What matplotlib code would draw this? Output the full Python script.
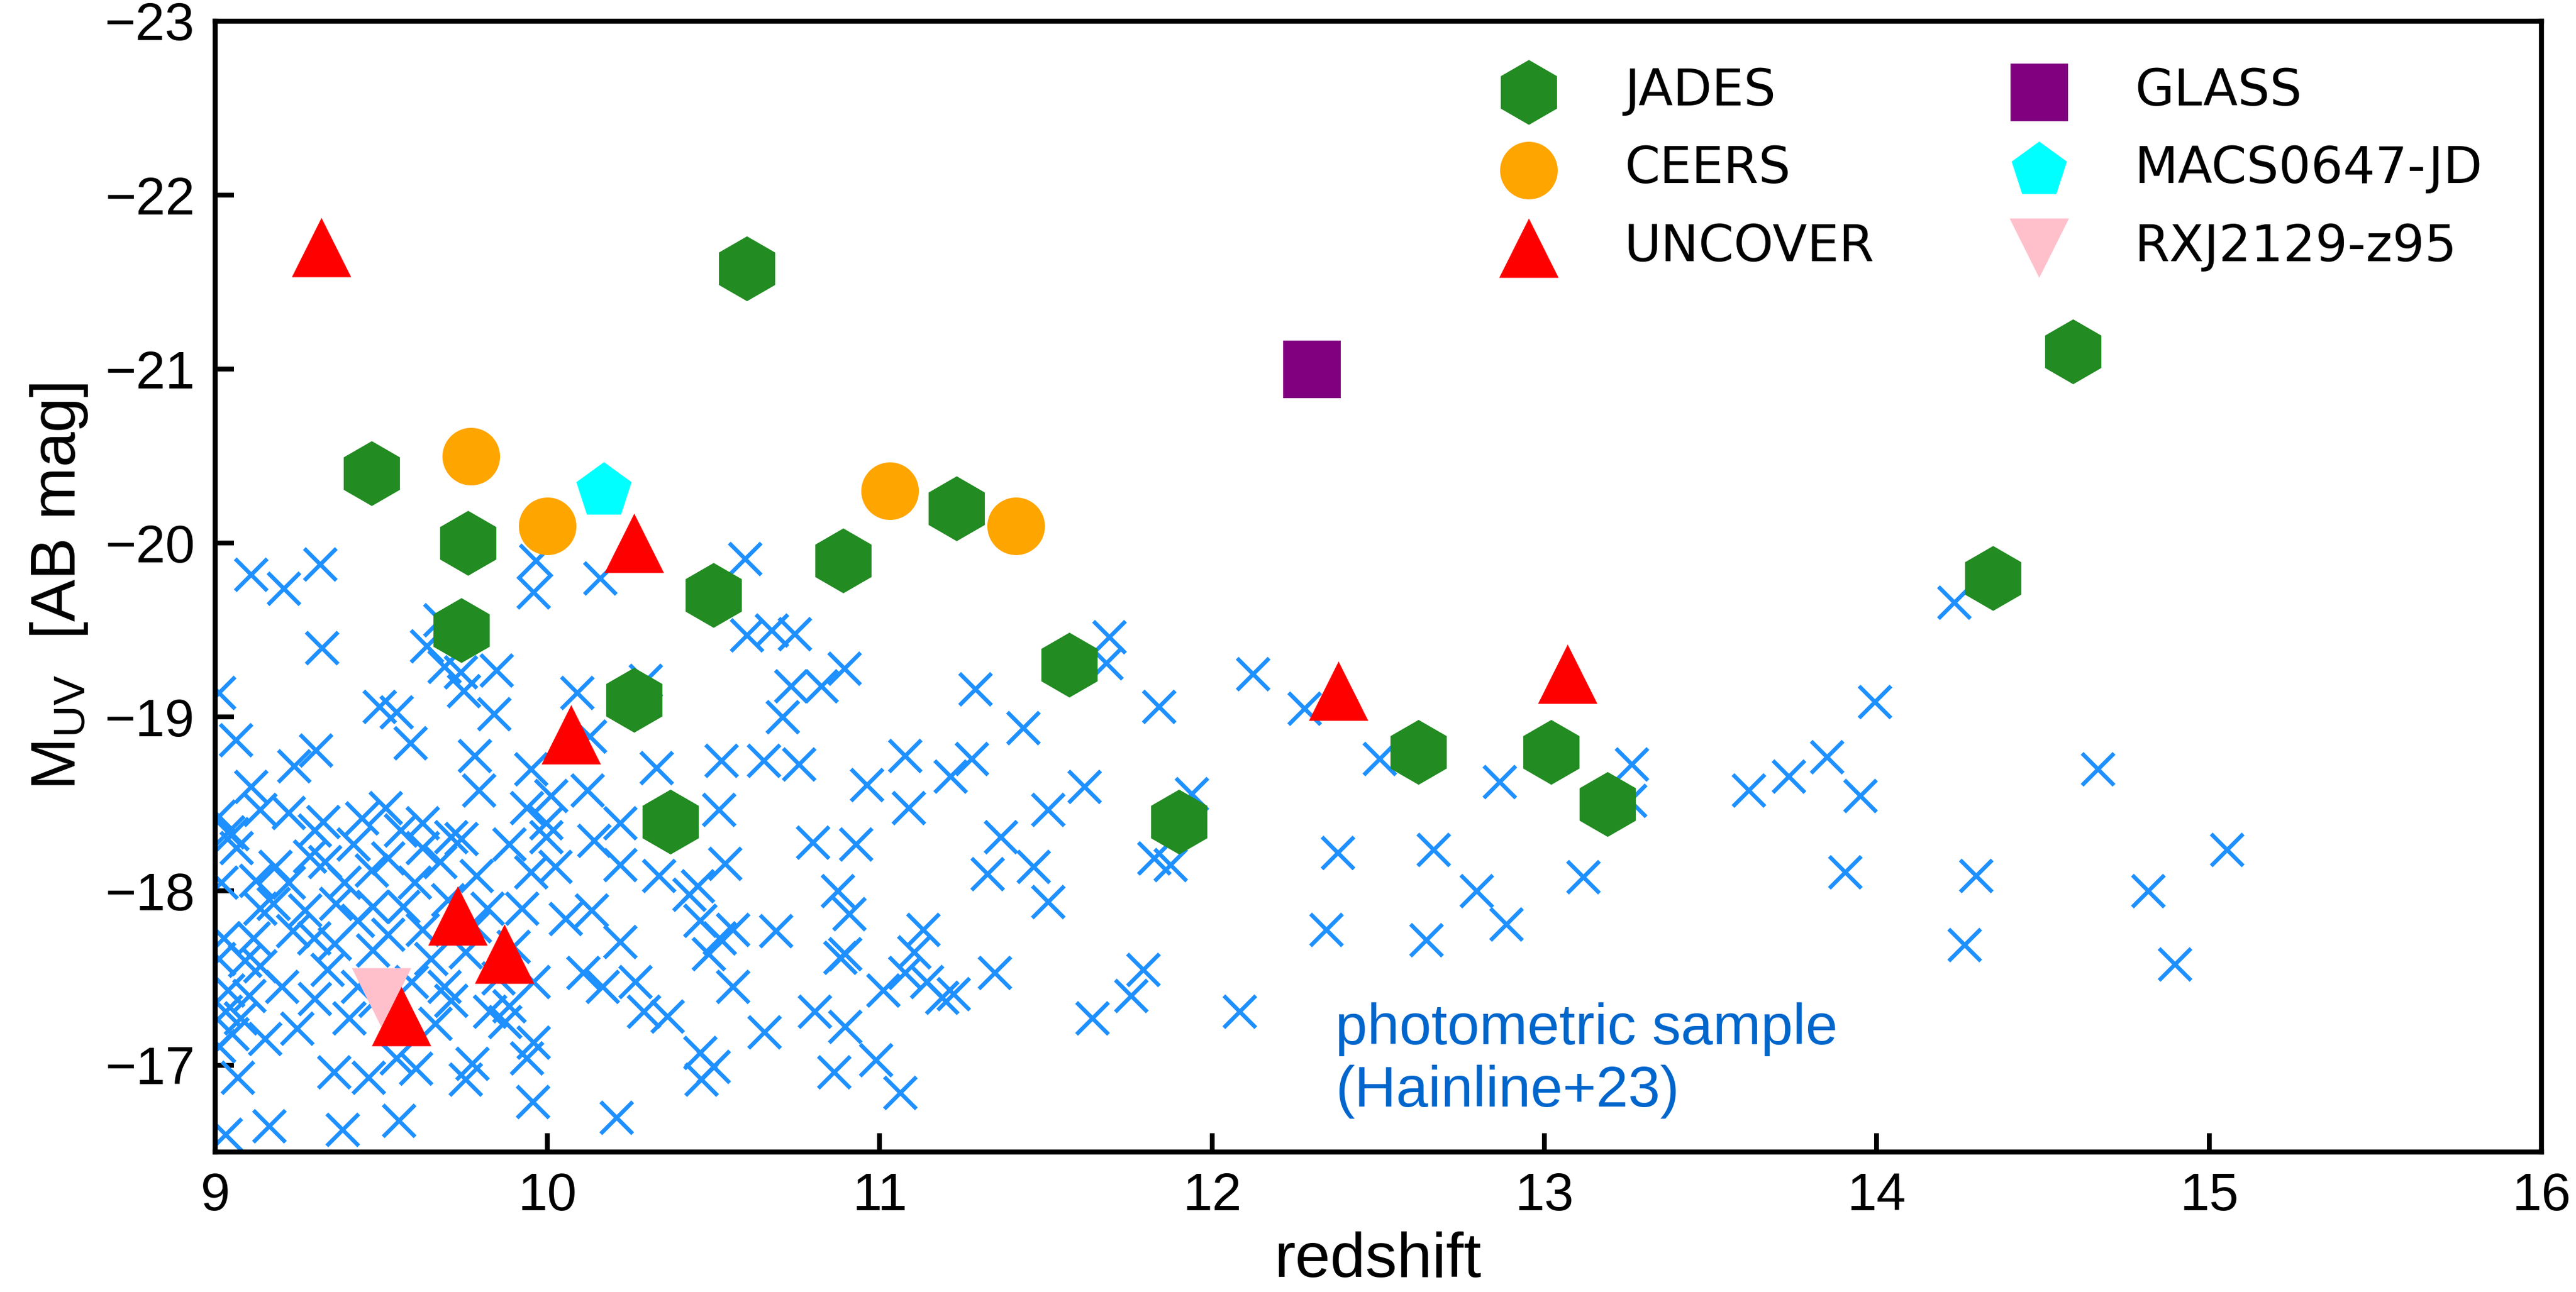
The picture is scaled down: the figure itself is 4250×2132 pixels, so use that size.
import matplotlib
matplotlib.use("Agg")
import matplotlib.pyplot as plt

# ---------------- data ----------------
phot_z = [9.108, 9.207, 9.316, 9.322, 9.012, 9.063, 9.303, 9.238, 9.108, 9.136, 9.22, 9.325, 9.441, 9.513,
          9.494, 9.546, 9.588, 9.636, 9.676, 9.689, 9.738, 9.748, 9.846, 9.839, 9.78, 9.793, 9.965, 9.958,
          9.95, 9.937, 9.624, 9.709, 9.051, 9.012,
          9.038, 9.18, 9.175, 9.135, 9.27, 9.331, 9.363, 9.474, 9.52, 9.624, 9.741, 9.884, 9.95, 9.923,
          9.565, 9.624, 9.337, 9.474, 9.135, 9.089, 9.038, 9.077, 9.051, 9.246, 9.403, 9.65, 9.689, 9.709,
          9.663, 9.885, 9.852, 9.937, 9.956, 9.773, 9.754, 9.604, 9.357, 9.461, 9.067, 9.162, 9.383, 9.552,
          9.031, 9.233, 9.298, 9.116, 9.025, 9.018, 9.064,
          9.122, 9.22, 9.285, 9.416, 9.558, 9.676, 9.786, 9.819, 9.389, 9.429, 9.52, 9.754, 9.897, 9.872,
          9.826, 9.011, 9.031, 9.011, 9.102, 9.591, 9.429, 9.481, 9.545,
          9.30, 9.47, 9.60, 9.70, 9.78, 9.36, 9.20, 9.30, 9.15,
          10.159, 10.594, 10.599, 10.674, 10.743, 10.894, 10.733, 10.824, 10.707, 10.089, 10.296, 10.127,
          10.328, 10.523, 10.65, 10.757, 10.96, 10.515, 10.12, 10.01, 10.218, 10.798, 10.928, 9.996,
          10.534, 10.335, 10.452, 10.427, 10.873, 10.908, 10.687, 10.459, 10.517, 10.557, 10.485, 10.557,
          10.895, 10.88, 10.653, 10.804, 10.895, 10.862, 10.459, 10.50, 10.462, 10.208, 10.36, 10.29,
          10.264, 10.218, 10.107, 10.165, 10.055, 10.133, 10.023, 10.218, 10.14, 9.996, 9.957, 9.957,
          11.69, 11.682, 11.287, 11.432, 11.84, 11.075, 11.277, 11.213, 11.086, 11.616, 11.507, 11.938, 11.363,
          11.324, 11.462, 11.506, 11.825, 11.875, 11.13, 11.103, 11.075, 11.01, 11.142, 11.222, 11.187,
          11.345, 11.64, 11.756, 11.792, 10.988, 11.061,
          12.123, 12.277, 12.503, 12.864, 13.263, 13.257, 12.377, 12.666, 12.795, 13.116, 12.884, 12.344,
          12.645, 12.082,
          14.232, 13.993, 13.615, 13.735, 13.85, 13.95, 14.665, 13.905, 14.299, 15.054, 14.816, 14.264, 14.897]
phot_muv = [-19.82, -19.74, -19.88, -19.40, -19.14, -18.87, -18.81, -18.72, -18.60, -18.47, -18.45, -18.40, -18.42, -18.48,
            -19.06, -19.03, -18.85, -19.41, -19.56, -19.29, -19.26, -19.15, -19.27, -19.02, -18.78, -18.58, -19.90, -19.72,
            -18.70, -18.48, -18.39, -18.31, -18.33, -18.43,
            -18.34, -18.14, -17.93, -17.90, -17.89, -18.17, -17.93, -17.91, -18.19, -18.25, -18.30, -18.27, -18.11, -17.90,
            -17.91, -17.78, -17.55, -17.66, -17.57, -17.60, -17.43, -17.27, -17.18, -17.21, -17.27, -17.61, -17.45, -17.37,
            -17.24, -17.34, -17.50, -17.04, -16.79, -17.01, -16.92, -16.98, -16.96, -16.93, -16.93, -16.65, -16.63, -16.68,
            -16.60, -17.77, -17.73, -17.73, -17.73, -18.05, -18.25,
            -18.06, -18.05, -18.20, -18.27, -18.35, -18.17, -18.09, -17.90, -18.05, -17.83, -17.75, -17.65, -17.68, -17.25,
            -17.31, -17.61, -17.31, -17.11, -17.40, -17.48, -17.45, -17.37, -17.04,
            -18.35, -18.12, -18.05, -17.95, -17.80, -17.70, -17.45, -17.38, -17.15,
            -19.80, -19.91, -19.47, -19.50, -19.48, -19.28, -19.18, -19.18, -19.00, -19.14, -19.21, -18.89,
            -18.71, -18.75, -18.75, -18.73, -18.61, -18.47, -18.58, -18.55, -18.39, -18.28, -18.27, -18.39,
            -18.16, -18.09, -18.03, -17.98, -18.00, -17.87, -17.77, -17.83, -17.73, -17.78, -17.64, -17.45,
            -17.64, -17.62, -17.19, -17.31, -17.22, -16.96, -17.07, -16.99, -16.92, -16.70, -17.28, -17.31,
            -17.48, -17.71, -17.53, -17.45, -17.84, -17.89, -18.14, -18.15, -18.29, -18.31, -17.48, -17.13,
            -19.46, -19.31, -19.16, -18.94, -19.06, -18.78, -18.76, -18.66, -18.48, -18.60, -18.47, -18.56, -18.31,
            -18.10, -18.14, -17.94, -18.19, -18.15, -17.78, -17.65, -17.53, -17.43, -17.48, -17.41, -17.39,
            -17.53, -17.27, -17.40, -17.55, -17.03, -16.84,
            -19.25, -19.05, -18.76, -18.63, -18.73, -18.52, -18.22, -18.24, -18.00, -18.08, -17.81, -17.78,
            -17.72, -17.31,
            -19.66, -19.09, -18.58, -18.66, -18.77, -18.55, -18.70, -18.11, -18.09, -18.24, -18.00, -17.69, -17.58]

jades_z = [9.47, 9.76, 9.74, 10.60, 10.26, 10.50, 10.37, 10.89, 11.23, 11.57, 11.90, 12.62, 13.02, 13.19, 14.35, 14.59]
jades_muv = [-20.4, -20.0, -19.5, -21.58, -19.1, -19.7, -18.4, -19.9, -20.2, -19.3, -18.4, -18.8, -18.8, -18.5, -19.8, -21.1]

ceers_z = [9.77, 10.00, 11.03, 11.41]
ceers_muv = [-20.5, -20.1, -20.3, -20.1]

uncover_z = [9.32, 10.26, 10.07, 9.73, 9.87, 9.56, 12.38, 13.07]
uncover_muv = [-21.7, -20.0, -18.9, -17.86, -17.64, -17.28, -19.15, -19.25]

glass_z = [12.30]
glass_muv = [-21.0]

macs_z = [10.17]
macs_muv = [-20.3]

rxj_z = [9.50]
rxj_muv = [-17.39]

# ---------------- plot ----------------
plt.rcParams['font.family'] = ['Liberation Sans', 'DejaVu Sans']
plt.rcParams['mathtext.fontset'] = 'custom'
plt.rcParams['mathtext.rm'] = 'Liberation Sans'
plt.rcParams['mathtext.it'] = 'Liberation Sans:italic'

fig = plt.figure(figsize=(4250 / 300, 2132 / 300), dpi=300)
ax = fig.add_axes([0.0835, 0.1083, 0.9031, 0.8753])

ax.scatter(phot_z, phot_muv, marker='x', s=160, linewidths=1.6, color='#1E90FF', zorder=2)

ax.scatter(jades_z, jades_muv, marker='h', s=25.7**2, color='#228B22', linewidths=0, label='JADES', zorder=3)
ax.scatter(ceers_z, ceers_muv, marker='o', s=22.8**2, color='orange', linewidths=0, label='CEERS', zorder=3)
ax.scatter(uncover_z, uncover_muv, marker='^', s=23.5**2, color='red', linewidths=0, label='UNCOVER', zorder=4)
ax.scatter(glass_z, glass_muv, marker='s', s=22.8**2, color='purple', linewidths=0, label='GLASS', zorder=3)
ax.scatter(macs_z, macs_muv, marker='p', s=23**2, color='cyan', linewidths=0, label='MACS0647-JD', zorder=3)
ax.scatter(rxj_z, rxj_muv, marker='v', s=23.5**2, color='pink', linewidths=0, label='RXJ2129-z95', zorder=3)

ax.set_xlim(9, 16)
ax.set_ylim(-16.5, -23)
ax.set_xticks(range(9, 17))
ax.set_yticks(range(-23, -16))

for sp in ax.spines.values():
    sp.set_linewidth(2.0)
ax.tick_params(direction='in', length=7.5, width=1.9, labelsize=21, pad=8)

ax.set_xlabel('redshift', fontsize=25, labelpad=4)
ax.set_ylabel(r'M$_{\rm UV}$  [AB mag]', fontsize=25, labelpad=6)

ax.text(12.37, -17.36, 'photometric sample\n(Hainline+23)', color='#0066CC', fontsize=22.8,
        ha='left', va='top', linespacing=1.2)

leg = ax.legend(loc='upper right', bbox_to_anchor=(0.9943, 1.0), ncol=2, frameon=False, scatterpoints=1,
                prop={'family': 'DejaVu Sans', 'size': 20}, labelspacing=0.57,
                columnspacing=2.25, handletextpad=0.9, borderaxespad=0.5)

fig.savefig('out.png', dpi=300)
